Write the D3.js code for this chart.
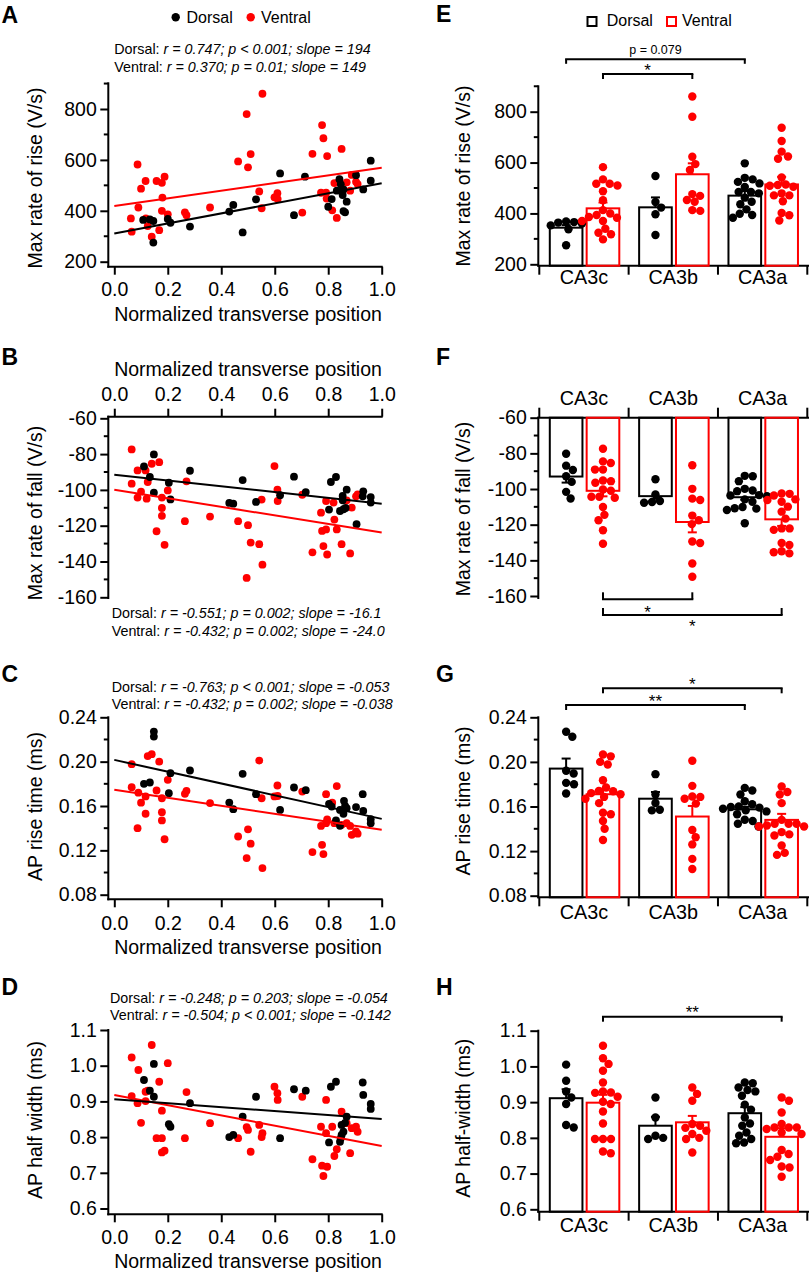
<!DOCTYPE html>
<html><head><meta charset="utf-8">
<script src="https://cdn.jsdelivr.net/npm/d3@7"></script>
<style>body{margin:0;background:#fff} text{white-space:pre}</style>
</head><body>
<script>
// ---------------- DATA ----------------
const regions = ["CA3c", "CA3b", "CA3a"];
const groups = ["Dorsal", "Ventral"];
const regionBounds = [1/3, 2/3];          // normalized position boundaries CA3c|CA3b|CA3a
const xTicks = [0, 0.2, 0.4, 0.6, 0.8, 1.0];

// A: max rate of rise (V/s)  [position, value]
const riseDorsal = [[0.108,364],[0.133,366],[0.146,360],[0.146,275],[0.2,368],[0.21,353],[0.283,338],
 [0.43,397],[0.445,423],[0.48,315],[0.53,445],[0.62,547],
 [0.672,383],[0.713,534],[0.8,416],[0.813,446],[0.832,479],[0.842,524],[0.847,504],[0.854,462],[0.857,399],[0.863,394],[0.869,436],[0.857,484],[0.904,540],[0.931,484],[0.959,518],[0.959,597]];
const riseVentral = [[0.062,370],[0.065,318],[0.087,582],[0.09,413],[0.1,487],[0.117,517],[0.118,370],[0.125,340],[0.14,298],[0.158,517],[0.168,324],[0.178,510],[0.188,534],[0.18,452],[0.178,400],[0.2,386],[0.264,394],[0.27,383],
 [0.358,413],[0.463,594],[0.495,780],[0.5,571],[0.51,623],[0.554,860],[0.542,476],[0.551,410],[0.599,453],[0.61,469],[0.611,446],
 [0.703,393],[0.741,624],[0.777,737],[0.782,685],[0.773,471],[0.792,471],[0.796,615],[0.794,448],[0.815,402],[0.823,509],[0.832,372],[0.85,643],[0.869,512],[0.882,479],[0.888,541],[0.904,514],[0.91,505]];

// B: max rate of fall (V/s)
const fallDorsal = [[0.111,-86.9],[0.148,-80.2],[0.133,-92.8],[0.148,-101.6],[0.204,-96],[0.21,-105.3],[0.283,-89.3],
 [0.43,-107.3],[0.445,-107.7],[0.48,-94.5],[0.53,-106.7],[0.62,-103],
 [0.672,-92.6],[0.716,-101.2],[0.803,-111],[0.81,-95.6],[0.829,-92.8],[0.844,-111.8],[0.857,-110.8],[0.854,-103.4],[0.854,-105.8],[0.865,-110.1],[0.869,-99.9],[0.906,-119.2],[0.931,-100.8],[0.929,-103.6],[0.959,-104],[0.959,-107.1]];
const fallVentral = [[0.065,-77.4],[0.065,-96.5],[0.087,-89.1],[0.087,-104.3],[0.1,-101],[0.117,-89.1],[0.121,-104.9],[0.125,-95.6],[0.14,-85.4],[0.168,-84.5],[0.158,-123.1],[0.178,-104.3],[0.178,-110.1],[0.178,-114.5],[0.188,-130.7],[0.2,-100.3],[0.27,-95.2],[0.264,-117.5],
 [0.358,-114.9],[0.463,-117.5],[0.5,-119.7],[0.495,-149.2],[0.51,-129.4],[0.542,-130.3],[0.554,-141.8],[0.551,-105.4],[0.599,-86.7],[0.61,-99.9],[0.611,-106.2],
 [0.703,-102.7],[0.741,-134.9],[0.773,-112.7],[0.777,-122.9],[0.792,-122.1],[0.782,-131.4],[0.796,-136.1],[0.792,-106.2],[0.82,-107.1],[0.823,-116.6],[0.832,-122.1],[0.85,-130.3],[0.869,-105.8],[0.888,-109.9],[0.882,-135.5],[0.904,-103.6],[0.91,-102.5]];

// C: AP rise time (ms)
const rtDorsal = [[0.111,0.180],[0.133,0.1812],[0.148,0.2271],[0.148,0.2226],[0.204,0.1716],[0.21,0.1896],[0.283,0.192],
 [0.43,0.1631],[0.445,0.1571],[0.48,0.189],[0.53,0.1707],[0.62,0.1565],
 [0.672,0.1767],[0.716,0.1743],[0.803,0.162],[0.813,0.1595],[0.829,0.147],[0.844,0.1421],[0.844,0.1565],[0.857,0.153],[0.859,0.1647],[0.869,0.158],[0.863,0.160],[0.904,0.159],[0.929,0.1707],[0.931,0.1556],[0.959,0.1481],[0.959,0.1445]];
const rtVentral = [[0.065,0.1977],[0.065,0.177],[0.087,0.14],[0.09,0.172],[0.1,0.163],[0.117,0.1686],[0.117,0.153],[0.125,0.205],[0.14,0.2067],[0.158,0.174],[0.168,0.2],[0.178,0.167],[0.178,0.1544],[0.178,0.147],[0.188,0.130],[0.2,0.1836],[0.264,0.171],[0.27,0.1737],
 [0.358,0.1626],[0.463,0.1325],[0.5,0.139],[0.495,0.113],[0.51,0.126],[0.542,0.201],[0.554,0.104],[0.551,0.167],[0.599,0.1686],[0.61,0.1785],[0.611,0.169],
 [0.703,0.173],[0.741,0.1184],[0.773,0.142],[0.777,0.125],[0.782,0.1166],[0.792,0.1707],[0.796,0.148],[0.792,0.1445],[0.815,0.163],[0.823,0.1445],[0.832,0.178],[0.85,0.143],[0.869,0.1445],[0.882,0.142],[0.888,0.134],[0.904,0.137],[0.91,0.135]];

// D: AP half width (ms)
const hwDorsal = [[0.111,0.96],[0.148,1.005],[0.133,0.93],[0.148,0.913],[0.204,0.836],[0.21,0.829],[0.283,0.895],
 [0.43,0.80],[0.445,0.806],[0.48,0.857],[0.53,0.913],[0.62,0.797],
 [0.672,0.934],[0.716,0.93],[0.803,0.785],[0.81,0.941],[0.829,0.955],[0.844,0.787],[0.847,0.797],[0.85,0.834],[0.857,0.815],[0.863,0.84],[0.869,0.857],[0.85,0.806],[0.929,0.953],[0.931,0.918],[0.959,0.893],[0.959,0.879]];
const hwVentral = [[0.065,1.023],[0.065,0.915],[0.087,0.895],[0.09,0.988],[0.1,0.84],[0.117,0.927],[0.117,0.901],[0.125,0.93],[0.14,1.058],[0.158,0.797],[0.168,0.955],[0.178,0.874],[0.178,0.797],[0.178,0.757],[0.188,0.762],[0.2,1.007],[0.264,0.797],[0.27,0.926],
 [0.358,0.839],[0.463,0.797],[0.495,0.828],[0.5,0.82],[0.51,0.759],[0.542,0.834],[0.554,0.811],[0.551,0.80],[0.599,0.941],[0.61,0.923],[0.611,0.904],
 [0.703,0.913],[0.741,0.738],[0.773,0.829],[0.777,0.72],[0.782,0.691],[0.792,0.904],[0.796,0.717],[0.792,0.811],[0.815,0.829],[0.823,0.747],[0.832,0.766],[0.85,0.871],[0.869,0.839],[0.882,0.755],[0.888,0.825],[0.904,0.829],[0.91,0.815]];

// regression lines: value at position 0 and position 1
const fitRiseDorsal = [311, 508],   fitRiseVentral = [419, 569];
const fitFallDorsal = [-91.5, -107.7], fitFallVentral = [-99.9, -123.8];
const fitRtDorsal = [0.2016, 0.1484], fitRtVentral = [0.1746, 0.1385];
const fitHwDorsal = [0.906, 0.851],  fitHwVentral = [0.918, 0.775];

const statsRise = ["r = 0.747; p < 0.001; slope = 194", "r = 0.370; p = 0.01; slope = 149"];
const statsFall = ["r = -0.551; p = 0.002; slope = -16.1", "r = -0.432; p = 0.002; slope = -24.0"];
const statsRt = ["r = -0.763; p < 0.001; slope = -0.053", "r = -0.432; p = 0.002; slope = -0.038"];
const statsHw = ["r = -0.248; p = 0.203; slope = -0.054", "r = -0.504; p < 0.001; slope = -0.142"];

// bar means and SEM per region (CA3c, CA3b, CA3a)
const riseMeanDorsal = [344, 424, 470], riseSemDorsal = [10, 39, 18];
const riseMeanVentral = [420, 554, 514], riseSemVentral = [23, 43, 30];
const fallMeanDorsal = [-93, -104, -104.6], fallSemDorsal = [3.4, 1.5, 1.4];
const fallMeanVentral = [-101, -118.5, -117], fallSemVentral = [3.1, 5.8, 3.7];
const rtMeanDorsal = [0.194, 0.167, 0.1575], rtSemDorsal = [0.009, 0.006, 0.0023];
const rtMeanVentral = [0.171, 0.151, 0.148], rtSemVentral = [0.005, 0.0095, 0.0054];
const hwMeanDorsal = [0.911, 0.834, 0.869], hwSemDorsal = [0.025, 0.025, 0.017];
const hwMeanVentral = [0.8985, 0.8435, 0.803], hwSemVentral = [0.022, 0.018, 0.024];

// significance brackets: [group, region] pairs and label
const sigRise = [{a:["Dorsal","CA3c"], b:["Dorsal","CA3a"], label:"p = 0.079"}, {a:["Ventral","CA3c"], b:["Ventral","CA3b"], label:"*"}];
const sigFall = [{a:["Ventral","CA3c"], b:["Ventral","CA3b"], label:"*"}, {a:["Ventral","CA3c"], b:["Ventral","CA3a"], label:"*"}];
const sigRt = [{a:["Ventral","CA3c"], b:["Ventral","CA3a"], label:"*"}, {a:["Dorsal","CA3c"], b:["Dorsal","CA3a"], label:"**"}];
const sigHw = [{a:["Ventral","CA3c"], b:["Ventral","CA3a"], label:"**"}];

// ---------------- DRAWING ----------------
const FONT = "'Liberation Sans', Arial, Helvetica, sans-serif";
const FS = 19.5;
const RED = "#ff0000";
const colorOf = g => g === "Dorsal" ? "#000" : RED;
const svg = d3.select("body").append("svg").attr("width", 810).attr("height", 1274)
  .style("font-family", FONT);

function line(g, x1, y1, x2, y2, color = "#000", w = 2, cap = "butt") {
  g.append("line").attr("x1", x1).attr("y1", y1).attr("x2", x2).attr("y2", y2)
    .attr("stroke", color).attr("stroke-width", w).attr("stroke-linecap", cap);
}
function text(g, x, y, s, size, anchor = "start", weight = "normal") {
  return g.append("text").attr("x", x).attr("y", y).attr("font-size", size)
    .attr("text-anchor", anchor).attr("font-weight", weight).attr("fill", "#000").text(s);
}
function styleAxis(a) {
  a.select(".domain").remove();
  a.attr("font-size", FS).attr("font-family", FONT);
  a.selectAll(".tick line").attr("stroke", "#000").attr("stroke-width", 2);
  a.selectAll(".tick text").attr("fill", "#000");
}
function drawYAxis(g, y, x, ticks, minor, fmt, top, bottom) {
  line(g, x, top, x, bottom, "#000", 2, "square");
  const a = g.append("g").attr("transform", `translate(${x},0)`)
    .call(d3.axisLeft(y).tickValues(ticks).tickFormat(fmt).tickSize(8).tickPadding(3.5));
  styleAxis(a);
  minor.forEach(v => line(g, x - 4.5, y(v), x, y(v)));
}
function yTitle(g, x, cy, s) {
  g.append("text").attr("transform", `translate(${x},${cy}) rotate(-90)`).attr("dy", "0.35em")
    .attr("text-anchor", "middle").attr("font-size", FS).attr("fill", "#000").text(s);
}
function stats(g, x, y, lines) {
  ["Dorsal: ", "Ventral: "].forEach((lab, i) => {
    const t = g.append("text").attr("x", x).attr("y", y + i * 17.2).attr("font-size", 14.3).attr("fill", "#000");
    t.append("tspan").text(lab);
    t.append("tspan").attr("font-style", "italic").text(lines[i]);
  });
}

// ---------- scatter panels ----------
const xS = d3.scaleLinear([0, 1], [114.3, 381.7]);
const XL = 108.3;

function scatterPanel(c) {
  const g = svg.append("g");
  const y = d3.scaleLinear(c.yDomain, c.yRange);
  drawYAxis(g, y, XL, c.ticks, c.minor, c.fmt, c.yTop, c.yBottom);
  line(g, XL, c.xAxisY, 381.7, c.xAxisY, "#000", 2, "square");
  const ax = (c.topAxis ? d3.axisTop(xS) : d3.axisBottom(xS)).tickValues(xTicks)
    .tickFormat(d => d.toFixed(1)).tickSize(8).tickPadding(c.xPad);
  const a = g.append("g").attr("transform", `translate(0,${c.xAxisY})`).call(ax);
  styleAxis(a);
  text(g, 248, c.xTitleY, "Normalized transverse position", FS, "middle");
  yTitle(g, 35, c.yTitleY, c.yLabel);
  [["Ventral", c.ventral], ["Dorsal", c.dorsal]].forEach(([gr, data]) => {
    g.append("g").selectAll("circle").data(data).join("circle")
      .attr("cx", d => xS(d[0])).attr("cy", d => y(d[1])).attr("r", 3.9).attr("fill", colorOf(gr));
  });
  [["Ventral", c.fitV], ["Dorsal", c.fitD]].forEach(([gr, f]) => {
    line(g, xS(0), y(f[0]), xS(1), y(f[1]), colorOf(gr), 2);
  });
  stats(g, c.statX, c.statY, c.stats);
  text(g, 1.5, c.letterY, c.letter, 23, "start", "bold");
}

scatterPanel({letter: "A", letterY: 23.3, yDomain: [200, 800], yRange: [261.7, 109], ticks: [200, 400, 600, 800],
  minor: [300, 500, 700, 900], fmt: d => String(d), yTop: 83.3, yBottom: 266.7, xAxisY: 266.7, xPad: 7.4,
  xTitleY: 320.7, yTitleY: 178, yLabel: "Max rate of rise (V/s)", dorsal: riseDorsal, ventral: riseVentral,
  fitD: fitRiseDorsal, fitV: fitRiseVentral, stats: statsRise, statX: 114.3, statY: 54.3});

scatterPanel({letter: "B", letterY: 365, yDomain: [-60, -160], yRange: [418.3, 597.3], ticks: [-60, -80, -100, -120, -140, -160],
  minor: [-70, -90, -110, -130, -150], fmt: d => String(d), yTop: 416.7, yBottom: 598, xAxisY: 416.7, xPad: 7.7, topAxis: true,
  xTitleY: 376, yTitleY: 513, yLabel: "Max rate of fall (V/s)", dorsal: fallDorsal, ventral: fallVentral,
  fitD: fitFallDorsal, fitV: fitFallVentral, stats: statsFall, statX: 111.7, statY: 618.3});

scatterPanel({letter: "C", letterY: 681.5, yDomain: [0.08, 0.24], yRange: [894.7, 717.3], ticks: [0.08, 0.12, 0.16, 0.20, 0.24],
  minor: [0.10, 0.14, 0.18, 0.22], fmt: d => d.toFixed(2), yTop: 717.3, yBottom: 899.3, xAxisY: 899.3, xPad: 9.2,
  xTitleY: 953.6, yTitleY: 806.5, yLabel: "AP rise time (ms)", dorsal: rtDorsal, ventral: rtVentral,
  fitD: fitRtDorsal, fitV: fitRtVentral, stats: statsRt, statX: 111.7, statY: 691.5});

scatterPanel({letter: "D", letterY: 994.5, yDomain: [0.6, 1.1], yRange: [1208.5, 1030], ticks: [0.6, 0.7, 0.8, 0.9, 1.0, 1.1],
  minor: [], fmt: d => d.toFixed(1), yTop: 1030, yBottom: 1214.3, xAxisY: 1214.3, xPad: 8.2,
  xTitleY: 1267.5, yTitleY: 1120, yLabel: "AP half width (ms)", dorsal: hwDorsal, ventral: hwVentral,
  fitD: fitHwDorsal, fitV: fitHwVentral, stats: statsHw, statX: 110, statY: 1002.5});

// legend A
(function () {
  const g = svg.append("g");
  g.append("circle").attr("cx", 175.7).attr("cy", 17.3).attr("r", 4.2).attr("fill", "#000");
  text(g, 186.5, 22.8, "Dorsal", 16);
  g.append("circle").attr("cx", 250.7).attr("cy", 17.3).attr("r", 4.2).attr("fill", RED);
  text(g, 261, 22.8, "Ventral", 16);
})();

// ---------- bar panels ----------
const XB = 538.3, XR = 808;
const xBand = d3.scaleBand(regions, [539.3, 807.3]);
const xSub = d3.scaleBand(groups, [9.5, 81]).paddingInner(0.06);
const regionOf = p => p < regionBounds[0] ? "CA3c" : (p < regionBounds[1] ? "CA3b" : "CA3a");
const centerOf = (gr, r) => xBand(r) + xSub(gr) + xSub.bandwidth() / 2;
const RB = 4.2;

function swarm(vals, y, r) {
  const pts = vals.map(v => ({v, y: y(v), x: 0}));
  const order = pts.slice().sort((a, b) => a.y - b.y);
  const placed = [], d = 2 * r * 0.95;
  for (const p of order) {
    const cands = [0];
    for (const q of placed) {
      const dy = Math.abs(q.y - p.y);
      if (dy < d) { const dx = Math.sqrt(d * d - dy * dy); cands.push(q.x + dx, q.x - dx); }
    }
    cands.sort((a, b) => Math.abs(a) - Math.abs(b));
    for (const cx of cands) {
      if (placed.every(q => (q.x - cx) ** 2 + (q.y - p.y) ** 2 >= d * d - 0.01)) { p.x = cx; break; }
    }
    placed.push(p);
  }
  return pts;
}

function barPanel(c) {
  const g = svg.append("g");
  const y = d3.scaleLinear(c.yDomain, c.yRange);
  drawYAxis(g, y, XB, c.ticks, c.minor, c.fmt, c.yTop, c.yBottom);
  line(g, XB, c.baseY, XR, c.baseY, "#000", 2, "square");
  const bnds = regions.map(r => xBand(r)).concat([xBand.range()[1]]);
  bnds.forEach(b => line(g, b, c.baseY, b, c.baseY + (c.top ? -10 : 9)));
  regions.forEach(r => text(g, xBand(r) + xBand.bandwidth() / 2, c.catY, r, 19.8, "middle"));
  yTitle(g, 463.3, c.yTitleY, c.yLabel);
  const bw = xSub.bandwidth();
  groups.forEach(gr => {
    const col = colorOf(gr);
    regions.forEach((r, i) => {
      const cx = centerOf(gr, r);
      const m = c.means[gr][i], s = c.sems[gr][i];
      const ym = y(m), ye = y(m + (c.top ? -s : s));
      line(g, cx, ym, cx, ye, col, 2);
      line(g, cx - 4.5, ye, cx + 4.5, ye, col, 2);
      g.append("rect").attr("x", cx - bw / 2 + 1).attr("width", bw - 2)
        .attr("y", Math.min(ym, c.baseY)).attr("height", Math.abs(c.baseY - ym))
        .attr("fill", "none").attr("stroke", col).attr("stroke-width", 2);
    });
  });
  groups.forEach(gr => {
    const col = colorOf(gr);
    regions.forEach(r => {
      const vals = c.points[gr].filter(d => regionOf(d[0]) === r).map(d => d[1]);
      const cx = centerOf(gr, r);
      g.append("g").selectAll("circle").data(swarm(vals, y, RB)).join("circle")
        .attr("cx", d => cx + d.x).attr("cy", d => d.y).attr("r", RB).attr("fill", col);
    });
  });
  c.sig.forEach((s, k) => {
    const L = c.sigLayout[k];
    const x1 = centerOf(s.a[0], s.a[1]), x2 = centerOf(s.b[0], s.b[1]);
    line(g, x1, L.y, x2, L.y, "#000", 2, "square");
    line(g, x1, L.y, x1, L.y + L.end, "#000", 2);
    line(g, x2, L.y, x2, L.y + L.end, "#000", 2);
    const isStar = s.label.indexOf("*") >= 0;
    const fs = isStar ? 17 : 12.5;
    const base = isStar ? L.ty + 0.57 * fs : L.ty + 4.5;
    text(g, (x1 + x2) / 2, base, s.label, fs, "middle");
  });
  text(g, 436, c.letterY, c.letter, 23, "start", "bold");
}

barPanel({letter: "E", letterY: 21.7, yDomain: [200, 800], yRange: [264.3, 111.7], ticks: [200, 400, 600, 800],
  minor: [300, 500, 700, 900], fmt: d => String(d), yTop: 86.3, yBottom: 265.7, baseY: 265.7, catY: 284.3,
  yTitleY: 176, yLabel: "Max rate of rise (V/s)",
  means: {Dorsal: riseMeanDorsal, Ventral: riseMeanVentral}, sems: {Dorsal: riseSemDorsal, Ventral: riseSemVentral},
  points: {Dorsal: riseDorsal, Ventral: riseVentral}, sig: sigRise,
  sigLayout: [{y: 59.3, end: 4.5, ty: 49.3}, {y: 74, end: 5, ty: 66.7}]});

barPanel({letter: "F", letterY: 365, yDomain: [-60, -160], yRange: [417.7, 596], ticks: [-60, -80, -100, -120, -140, -160],
  minor: [-70, -90, -110, -130, -150], fmt: d => String(d), yTop: 417.7, yBottom: 598, baseY: 417.7, catY: 405, top: true,
  yTitleY: 509, yLabel: "Max rate of fall (V/s)",
  means: {Dorsal: fallMeanDorsal, Ventral: fallMeanVentral}, sems: {Dorsal: fallSemDorsal, Ventral: fallSemVentral},
  points: {Dorsal: fallDorsal, Ventral: fallVentral}, sig: sigFall,
  sigLayout: [{y: 599.3, end: -7, ty: 608.3}, {y: 615, end: -7, ty: 622.7}]});

barPanel({letter: "G", letterY: 681.7, yDomain: [0.08, 0.24], yRange: [895.7, 717.3], ticks: [0.08, 0.12, 0.16, 0.20, 0.24],
  minor: [0.10, 0.14, 0.18, 0.22], fmt: d => d.toFixed(2), yTop: 717.3, yBottom: 897.3, baseY: 897.3, catY: 919.3,
  yTitleY: 801, yLabel: "AP rise time (ms)",
  means: {Dorsal: rtMeanDorsal, Ventral: rtMeanVentral}, sems: {Dorsal: rtSemDorsal, Ventral: rtSemVentral},
  points: {Dorsal: rtDorsal, Ventral: rtVentral}, sig: sigRt,
  sigLayout: [{y: 688.3, end: 5, ty: 680}, {y: 705, end: 5, ty: 697.3}]});

barPanel({letter: "H", letterY: 995, yDomain: [0.6, 1.1], yRange: [1209.3, 1030.7], ticks: [0.6, 0.7, 0.8, 0.9, 1.0, 1.1],
  minor: [], fmt: d => d.toFixed(1), yTop: 1030.7, yBottom: 1211.7, baseY: 1211.7, catY: 1231.7,
  yTitleY: 1118.3, yLabel: "AP half-width (ms)",
  means: {Dorsal: hwMeanDorsal, Ventral: hwMeanVentral}, sems: {Dorsal: hwSemDorsal, Ventral: hwSemVentral},
  points: {Dorsal: hwDorsal, Ventral: hwVentral}, sig: sigHw,
  sigLayout: [{y: 1016.7, end: 5, ty: 1008.3}]});

// legend E
(function () {
  const g = svg.append("g");
  g.append("rect").attr("x", 587.5).attr("y", 17).attr("width", 9).attr("height", 9)
    .attr("fill", "none").attr("stroke", "#000").attr("stroke-width", 2);
  text(g, 606.7, 26, "Dorsal", 16);
  g.append("rect").attr("x", 667).attr("y", 17).attr("width", 9).attr("height", 9)
    .attr("fill", "none").attr("stroke", RED).attr("stroke-width", 2);
  text(g, 682, 26, "Ventral", 16);
})();
</script>
</body></html>
